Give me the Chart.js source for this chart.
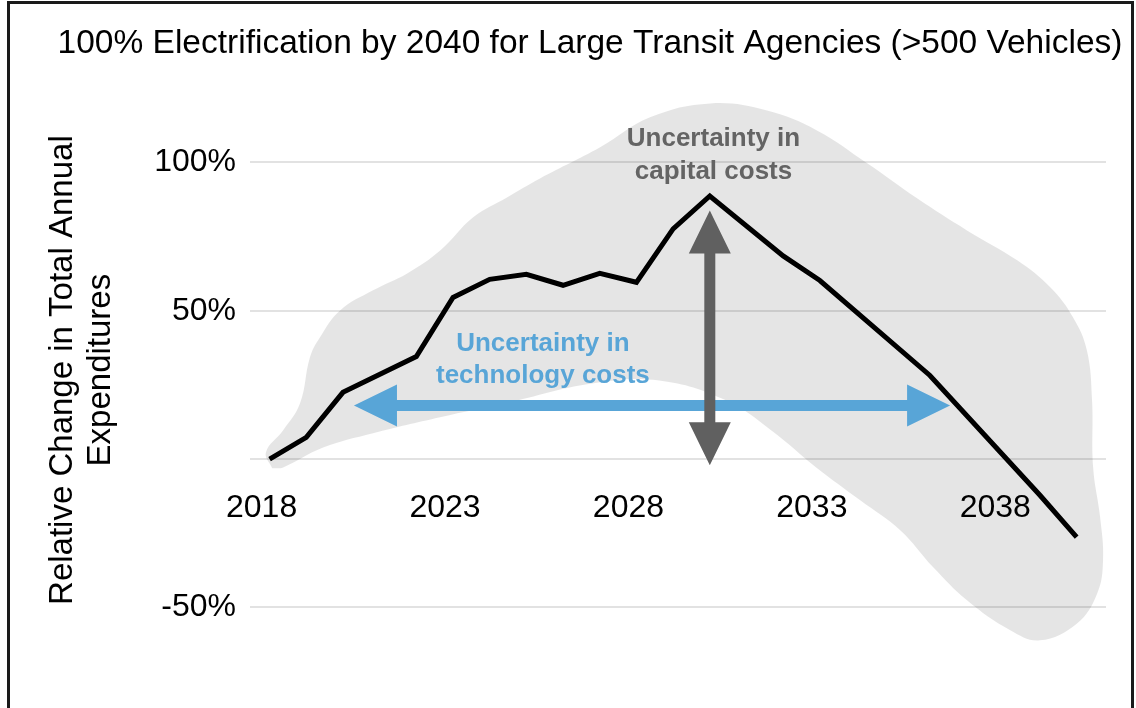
<!DOCTYPE html>
<html>
<head>
<meta charset="utf-8">
<script src="https://cdn.jsdelivr.net/npm/chart.js@4.4.1/dist/chart.umd.min.js"></script>
<style>
  html, body { margin: 0; padding: 0; background: #fff; }
  body { width: 1136px; height: 708px; position: relative; overflow: hidden; }
  #wrap { position: absolute; left: 0; top: 0; width: 1136px; height: 708px; }
  #frame { position: absolute; left: 7px; top: 1px; width: 1127px; height: 740px; border: 3px solid #1a1a1a; box-sizing: border-box; pointer-events: none; }
</style>
</head>
<body>
<div id="wrap"><canvas id="chart"></canvas></div>
<div id="frame"></div>
<script>
// Central estimate (relative change in total annual expenditures, %)
const years = [2018, 2019, 2020, 2022, 2023, 2024, 2025, 2026, 2027, 2028, 2029, 2030, 2032, 2033, 2036, 2039, 2040]
const change = [0, 7.3, 22.5, 34.6, 54.5, 60.6, 62.3, 58.6, 62.6, 59.6, 77.6, 88.7, 68.5, 60.2, 28.2, -12.2, -26.3]

// Uncertainty envelope outline (traced clockwise)
const bandYears = [2018.07, 2017.90, 2018.37, 2018.83, 2019.10, 2019.37, 2019.92, 2020.82, 2021.75, 2022.65,
  2023.55, 2024.47, 2025.37, 2027.01, 2028.37, 2030.01, 2031.56, 2032.92, 2034.29, 2035.65,
  2037.01, 2038.38, 2039.28, 2039.90, 2040.28, 2040.42, 2040.45, 2040.64, 2040.72, 2040.56,
  2040.01, 2039.00, 2038.19, 2037.01, 2036.09, 2035.19, 2034.10, 2032.90, 2031.67, 2030.44,
  2028.62, 2026.79, 2024.42, 2022.65, 2020.82, 2019.46, 2018.37, 2018.07]
const bandValues = [-3.1, 2.3, 9.7, 18.8, 34.3, 41.0, 50.1, 56.9, 62.6, 70.3,
  81.5, 88.2, 94.6, 105.1, 115.2, 119.9, 117.5, 110.8, 99.7, 87.9,
  77.1, 67.0, 57.9, 47.8, 36.6, 19.8, -2.8, -19.6, -34.1, -45.3,
  -55.4, -61.1, -57.7, -47.6, -36.5, -24.0, -13.9, -2.8, 9.7, 19.8,
  26.5, 25.5, 18.8, 14.1, 8.7, 3.9, -2.8, -3.1]

const xTicks = [2018, 2023, 2028, 2033, 2038]
const yTicks = [-50, 0, 50, 100]

// Annotations (data coordinates)
const techArrow = { from: 2020.3, to: 2036.55, value: 18.1, color: "#58a5d7" }
const capitalArrow = { year: 2030, from: 83.8, to: -2.1, color: "#606060" }
const techLabel = { year: 2025.45, values: [39.0, 28.2], lines: ["Uncertainty in", "technology costs"], color: "#58a5d7" }
const capitalLabel = { year: 2030.1, values: [107.8, 97.0], lines: ["Uncertainty in", "capital costs"], color: "#646464" }

const FONT = "'Liberation Sans', Arial, Helvetica, sans-serif"
Chart.defaults.font.family = FONT
Chart.defaults.color = "#000"

function drawArrow(c, x1, y1, x2, y2, color) {
  const ang = Math.atan2(y2 - y1, x2 - x1)
  const len = Math.hypot(x2 - x1, y2 - y1)
  const head = 43
  const half = 21
  const shaft = 5.5
  c.save()
  c.translate(x1, y1)
  c.rotate(ang)
  c.fillStyle = color
  c.beginPath()
  c.moveTo(0, 0)
  c.lineTo(head, -half)
  c.lineTo(head, -shaft)
  c.lineTo(len - head, -shaft)
  c.lineTo(len - head, -half)
  c.lineTo(len, 0)
  c.lineTo(len - head, half)
  c.lineTo(len - head, shaft)
  c.lineTo(head, shaft)
  c.lineTo(head, half)
  c.closePath()
  c.fill()
  c.restore()
}

function drawLabel(c, xs, ys, label) {
  c.save()
  c.font = "bold 26px " + FONT
  c.fillStyle = label.color
  c.textAlign = "center"
  c.textBaseline = "middle"
  label.lines.forEach((line, i) => {
    c.fillText(line, xs.getPixelForValue(label.year), ys.getPixelForValue(label.values[i]))
  })
  c.restore()
}

// Arrows and labels go on top of the envelope, under the black line
const annotations = {
  id: "annotations",
  afterDatasetDraw(chart, args) {
    if (args.index !== 1) return
    const c = chart.ctx
    const xs = chart.scales.x
    const ys = chart.scales.y
    const ty = ys.getPixelForValue(techArrow.value)
    drawArrow(c, xs.getPixelForValue(techArrow.from), ty, xs.getPixelForValue(techArrow.to), ty, techArrow.color)
    const cx = xs.getPixelForValue(capitalArrow.year)
    drawArrow(c, cx, ys.getPixelForValue(capitalArrow.from), cx, ys.getPixelForValue(capitalArrow.to), capitalArrow.color)
    drawLabel(c, xs, ys, techLabel)
    drawLabel(c, xs, ys, capitalLabel)
  },
}

const ctx = document.getElementById("chart")
new Chart(ctx, {
  type: "line",
  data: {
    datasets: [
      {
        label: "Relative change",
        data: years.map((y, i) => ({ x: y, y: change[i] })),
        borderColor: "#000000",
        borderWidth: 5,
        borderJoinStyle: "miter",
        pointRadius: 0,
        tension: 0,
        fill: false,
      },
      {
        label: "Uncertainty",
        data: bandYears.map((y, i) => ({ x: y, y: bandValues[i] })),
        borderWidth: 0,
        borderColor: "rgba(0,0,0,0)",
        backgroundColor: "rgba(0,0,0,0.1)",
        fill: "shape",
        pointRadius: 0,
        tension: 0.4,
        clip: false,
      },
    ],
  },
  options: {
    responsive: true,
    maintainAspectRatio: false,
    animation: false,
    layout: {
      padding: { left: 44, right: 0, top: 0, bottom: 65 },
    },
    plugins: {
      legend: { display: false },
      tooltip: { enabled: false },
      title: {
        display: true,
        text: "100% Electrification by 2040 for Large Transit Agencies (>500 Vehicles)",
        color: "#000",
        font: { size: 33.5, weight: "normal" },
        padding: { top: 24, bottom: 33 },
      },
    },
    scales: {
      x: {
        type: "linear",
        position: { y: 0 },
        min: 2017.466,
        max: 2040.8,
        afterBuildTicks: (scale) => {
          scale.ticks = xTicks.map((v) => ({ value: v }))
        },
        grid: { display: false },
        border: { display: false },
        ticks: {
          font: { size: 32 },
          color: "#000",
          padding: 22,
          labelOffset: -8,
          maxRotation: 0,
          autoSkip: false,
          callback: (v) => String(v),
        },
      },
      y: {
        type: "linear",
        min: -62,
        max: 122,
        afterBuildTicks: (scale) => {
          scale.ticks = yTicks.map((v) => ({ value: v }))
        },
        afterFit: (scale) => {
          scale.width = 206
          scale.paddingTop = 0
          scale.paddingBottom = 0
        },
        grid: { color: "#e2e2e2", lineWidth: 2, drawTicks: false },
        border: { display: false },
        ticks: {
          font: { size: 32 },
          color: "#000",
          padding: 14,
          callback: (v) => (v === 0 ? "" : v + "%"),
        },
        title: {
          display: true,
          text: ["Relative Change in Total Annual", "Expenditures"],
          color: "#000",
          font: { size: 33, lineHeight: 1.15 },
          padding: 0,
        },
      },
      yRight: {
        type: "linear",
        position: "right",
        min: -62,
        max: 122,
        grid: { display: false },
        border: { display: false },
        ticks: { display: false },
        afterFit: (scale) => {
          scale.width = 30
        },
      },
    },
  },
  plugins: [annotations],
})
</script>
</body>
</html>
